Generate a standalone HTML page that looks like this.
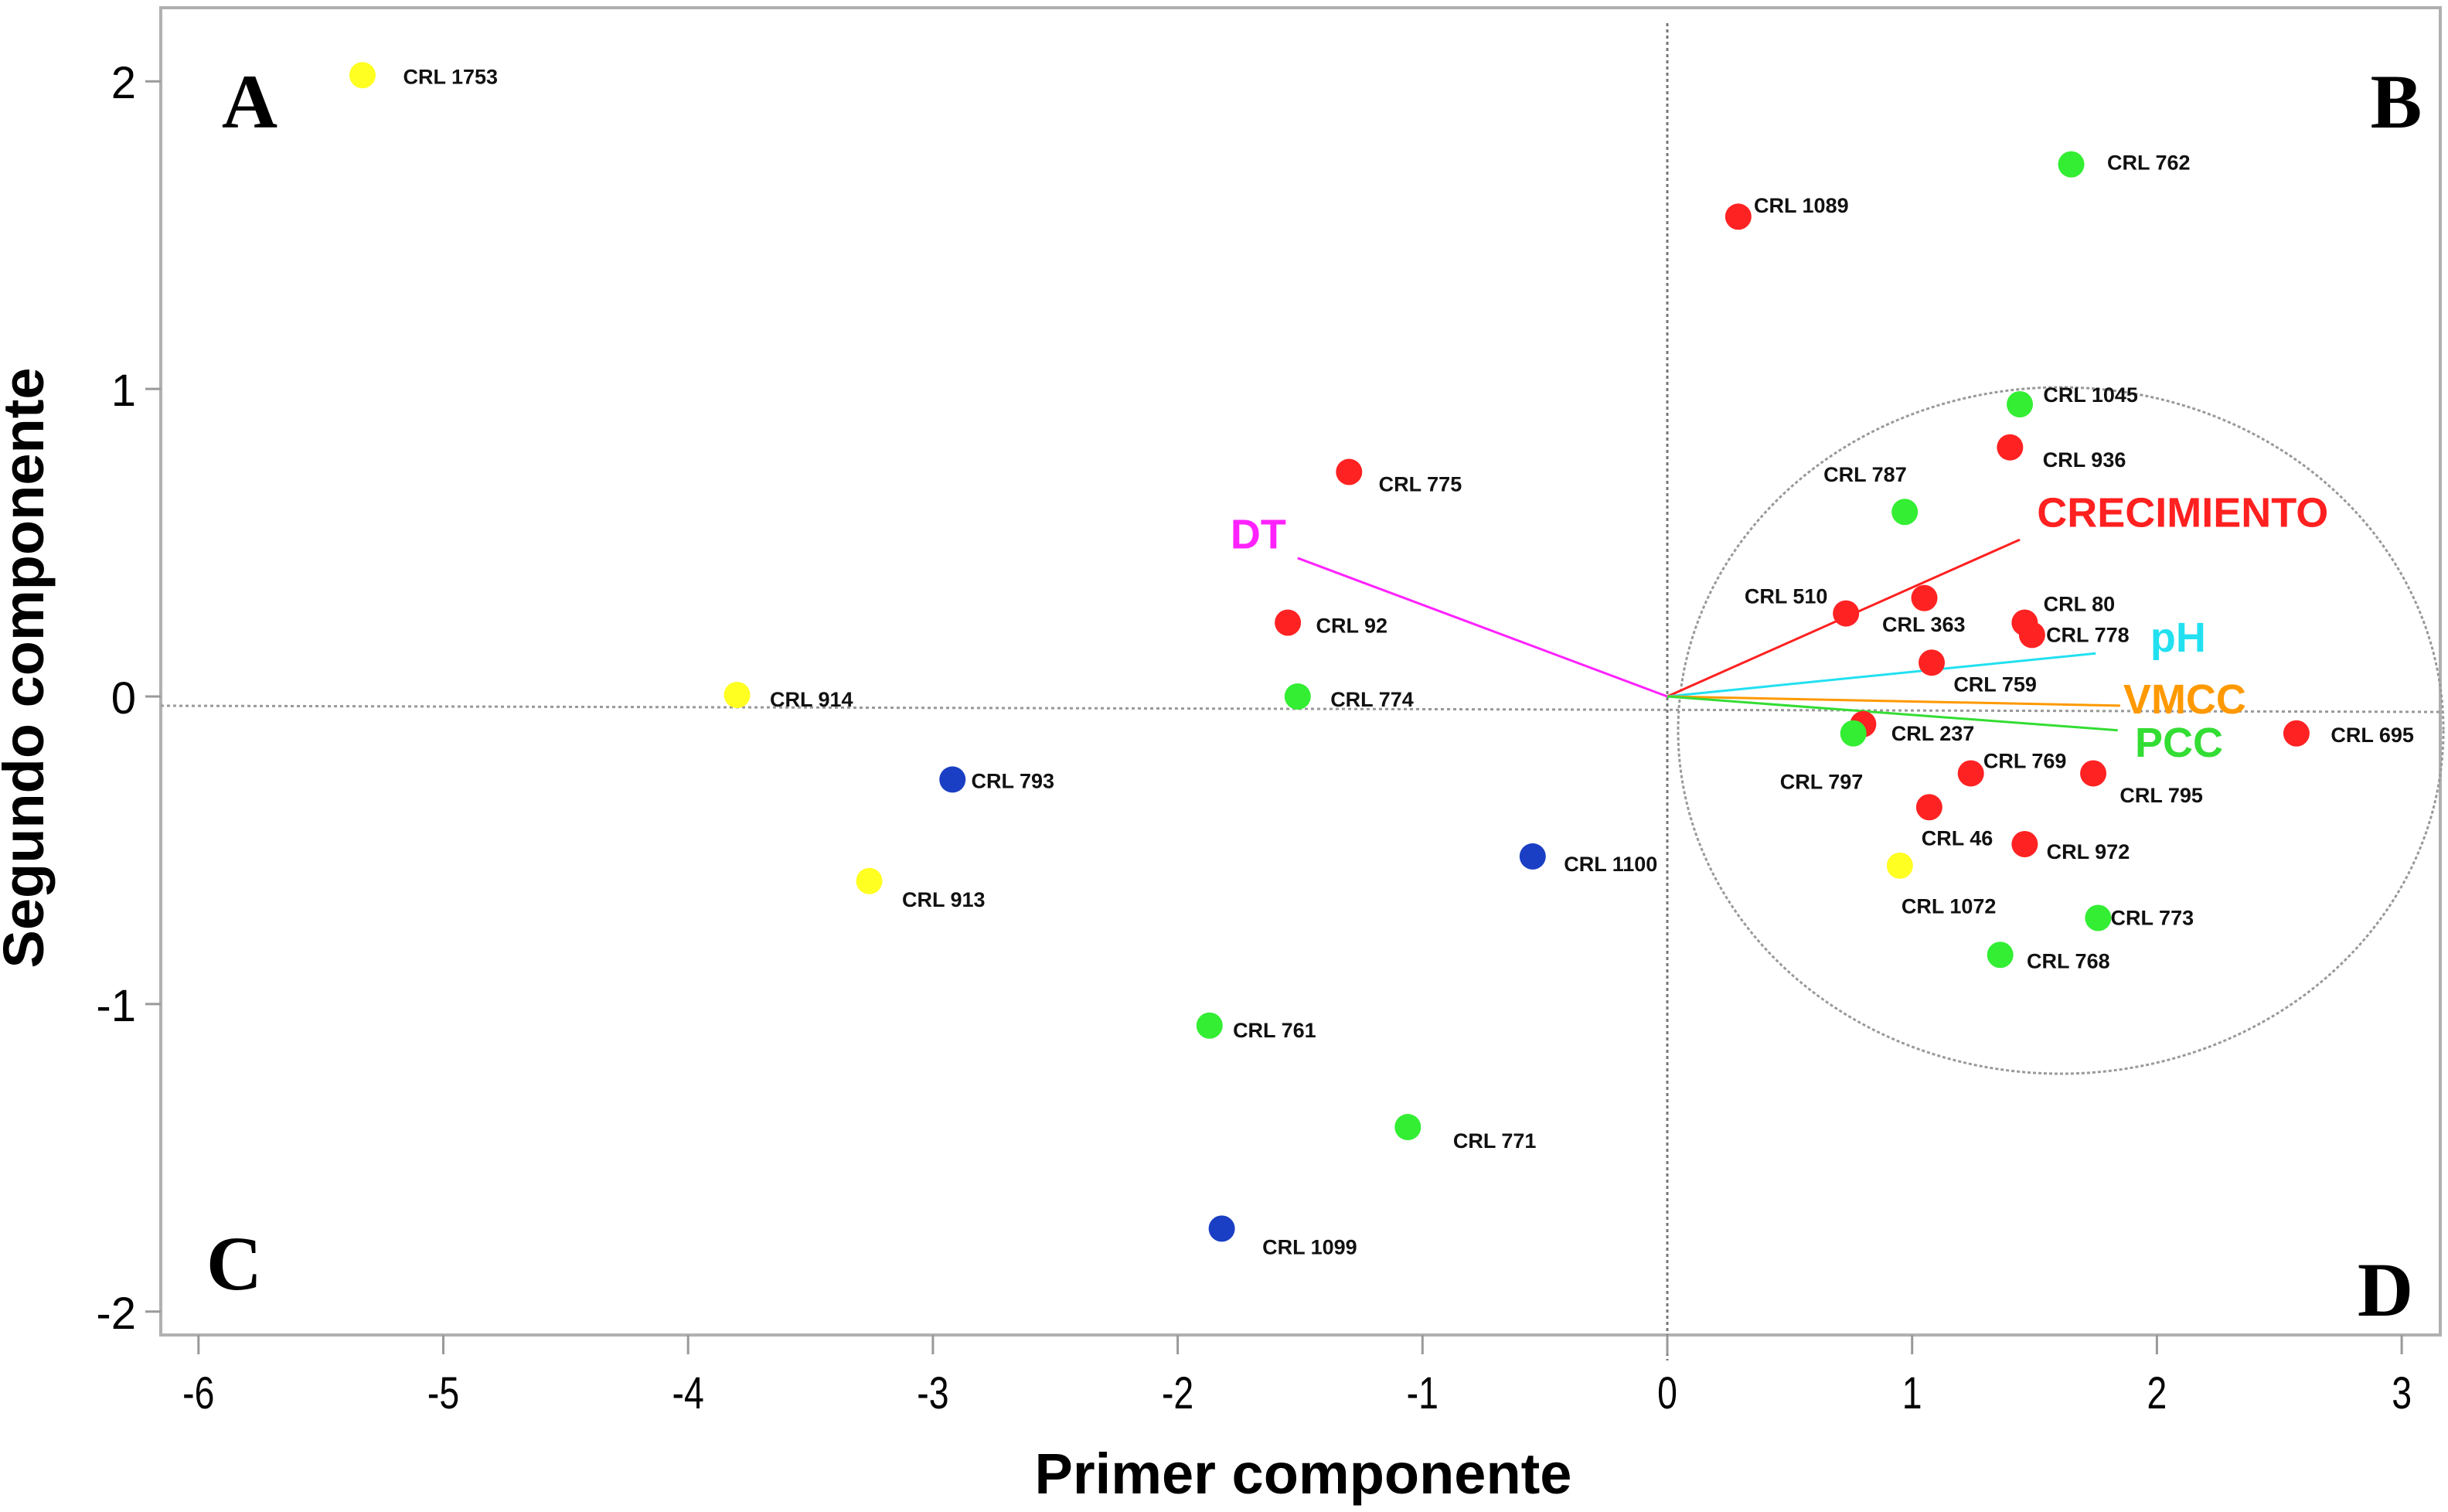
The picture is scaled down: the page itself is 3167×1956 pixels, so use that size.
<!DOCTYPE html>
<html><head><meta charset="utf-8"><style>
html,body{margin:0;padding:0;background:#fff;}
svg{display:block;}
</style></head><body>
<svg id="chart" width="3167" height="1956" viewBox="0 0 3167 1956" xmlns="http://www.w3.org/2000/svg" font-family="Liberation Sans, sans-serif">
<rect x="208" y="10" width="2949" height="1717" fill="#fff" stroke="#b0b0b0" stroke-width="4"/>
<g id="grid"></g>
<g id="axes"></g>
<g id="vectors"></g>
<g id="points"></g>
<text x="323" y="165" font-family="Liberation Serif, serif" font-weight="bold" font-size="100" text-anchor="middle">A</text>
<text x="3100" y="165" font-family="Liberation Serif, serif" font-weight="bold" font-size="100" text-anchor="middle">B</text>
<text x="303" y="1668" font-family="Liberation Serif, serif" font-weight="bold" font-size="100" text-anchor="middle">C</text>
<text x="3086" y="1702" font-family="Liberation Serif, serif" font-weight="bold" font-size="100" text-anchor="middle">D</text>
<text x="1686" y="1932" font-weight="bold" font-size="74" text-anchor="middle">Primer componente</text>
<text transform="translate(56,864) rotate(-90)" font-weight="bold" font-size="74" text-anchor="middle">Segundo componente</text>
</svg>
<script>
const xTicks=[-6,-5,-4,-3,-2,-1,0,1,2,3];
const yTicks=[-2,-1,0,1,2];
const names=["CRL 1753","CRL 762","CRL 1089","CRL 1045","CRL 936","CRL 787","CRL 775","CRL 92","CRL 914","CRL 774","CRL 793","CRL 913","CRL 1100","CRL 761","CRL 771","CRL 1099","CRL 510","CRL 363","CRL 80","CRL 778","CRL 759","CRL 237","CRL 797","CRL 695","CRL 769","CRL 795","CRL 46","CRL 972","CRL 1072","CRL 773","CRL 768"];
const pc1=[-5.33,1.65,0.29,1.44,1.40,0.97,-1.30,-1.55,-3.80,-1.51,-2.92,-3.26,-0.55,-1.87,-1.06,-1.82,0.73,1.05,1.46,1.49,1.08,0.80,0.76,2.57,1.24,1.74,1.07,1.46,0.95,1.76,1.36];
const pc2=[2.02,1.73,1.56,0.95,0.81,0.60,0.73,0.24,0.005,0.0,-0.27,-0.60,-0.52,-1.07,-1.40,-1.73,0.27,0.32,0.24,0.20,0.11,-0.09,-0.12,-0.12,-0.25,-0.25,-0.36,-0.48,-0.55,-0.72,-0.84];
const groups=["yellow","green","red","green","red","green","red","red","yellow","green","blue","yellow","blue","green","green","blue","red","red","red","red","red","red","green","red","red","red","red","red","yellow","green","green"];
const labelDx=[26,23,10,15,21,-52,19,18,21,21,12,21,20,15,29,26,-65,-27,12,9,14,18,-47,22,8,17,-5,14,1,8,17];
const labelDy=[1,-1,-7,-6,8,-24,8,2,3,2,1,12,5,3,9,12,-11,17,-12,0,14,6,31,1,-8,14,20,5,26,0,4];
const vecNames=["DT","CRECIMIENTO","pH","VMCC","PCC"];
const vecX=[-1.51,1.44,1.75,1.85,1.84];
const vecY=[0.45,0.51,0.14,-0.03,-0.11];
const vecColors=["#ff22ff","#ff2020","#22e0f0","#ff9900","#33dd33"];
const vecLabelDx=[-43,11,35,2,11];
const vecLabelDy=[-16,-18,-11,-5,7];
const colorMap={red:"#ff2222",green:"#33ee33",yellow:"#ffff22",blue:"#1a3fc4"};
const NS="http://www.w3.org/2000/svg";
const X=v=>2157+v*316.7, Y=v=>901-v*397.9;
const S=2.02;
function mk(tag,attrs,parent,text){const e=document.createElementNS(NS,tag);for(const k in attrs)e.setAttribute(k,attrs[k]);if(text!==undefined)e.textContent=text;parent.appendChild(e);return e;}
const grid=document.getElementById('grid'),axes=document.getElementById('axes'),vg=document.getElementById('vectors'),pg=document.getElementById('points');
let e=mk('line',{x1:208,y1:Y(0)+12,x2:3157,y2:Y(0)+20,stroke:"#999","stroke-width":3,"stroke-dasharray":"4 4"},grid);

e=mk('line',{x1:X(0),y1:30,x2:X(0),y2:1760,stroke:"#777","stroke-width":3,"stroke-dasharray":"4 4"},grid);

e=mk('ellipse',{cx:2666,cy:945,rx:495,ry:444,fill:"none",stroke:"#999","stroke-width":3,"stroke-dasharray":"4 3"},grid);

xTicks.forEach(t=>{
 let l=mk('line',{x1:X(t),y1:1727,x2:X(t),y2:1752,stroke:"#999","stroke-width":3},axes);
 
 let tx=mk('text',{x:X(t),y:1822,"font-size":58,"text-anchor":"middle",transform:`translate(${X(t)},0) scale(0.8,1) translate(${-X(t)},0)`},axes,t<0?"-"+Math.abs(t):String(t));
 
});
yTicks.forEach(t=>{
 let l=mk('line',{x1:188,y1:Y(t),x2:208,y2:Y(t),stroke:"#999","stroke-width":3},axes);
 
 let tx=mk('text',{x:176,y:Y(t)+22,"font-size":58,"text-anchor":"end"},axes,t<0?"-"+Math.abs(t):String(t));
 
});
vecNames.forEach((n,i)=>{
 let l=mk('line',{x1:X(0),y1:Y(0),x2:X(vecX[i]),y2:Y(vecY[i]),stroke:vecColors[i],"stroke-width":3},vg);
 
 let tx=mk('text',{x:X(vecX[i])+vecLabelDx[i]*S,y:Y(vecY[i])+vecLabelDy[i]*S+20,"font-size":54,"font-weight":"bold",fill:vecColors[i]},vg,n);
 
});
names.forEach((n,i)=>{
 let c=mk('circle',{cx:X(pc1[i]),cy:Y(pc2[i]),r:17,fill:colorMap[groups[i]]},pg);
 
 let tx=mk('text',{x:X(pc1[i])+labelDx[i]*S,y:Y(pc2[i])+labelDy[i]*S+9,"font-size":27,"font-weight":"bold",fill:"#111"},pg,n);
 
});
</script>
</body></html>
